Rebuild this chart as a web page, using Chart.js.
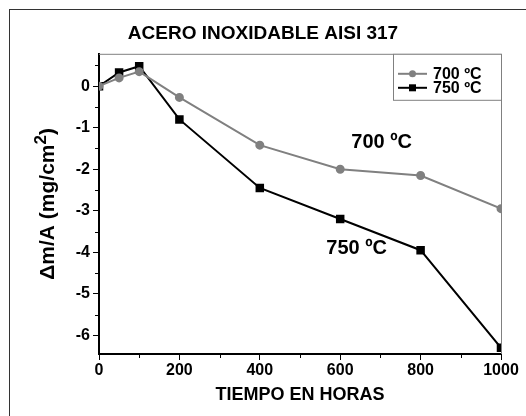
<!DOCTYPE html>
<html>
<head>
<meta charset="utf-8">
<script src="https://cdn.jsdelivr.net/npm/chart.js@4.4.1/dist/chart.umd.min.js"></script>
<style>
  body { margin: 0; background: #fff; }
  #wrap { position: relative; width: 526px; height: 416px; overflow: hidden; }
  #frame { position: absolute; left: 9px; top: 9px; width: 600px; height: 500px; border: 1px solid #333; }
  canvas { position: absolute; left: 0; top: 0; }
</style>
</head>
<body>
<div id="wrap">
  <div id="frame"></div>
  <canvas id="myChart" width="526" height="416"></canvas>
</div>
<script>
// datos
const horas = [0, 50, 100, 200, 400, 600, 800, 1000];
const masa700 = [0, 0.2, 0.35, -0.27, -1.42, -2.0, -2.15, -2.95];
const masa750 = [0, 0.33, 0.48, -0.8, -2.45, -3.2, -3.95, -6.3];
const serieNombres = ["700 ºC", "750 ºC"];
// etiquetas dentro del grafico (en unidades de datos)
const notaTextos = ["700 ºC", "750 ºC"];
const notaX = [703, 641];
const notaY = [-1.36, -3.9];
// titulo del eje y: texto, superindice, cierre
const tituloY = ["Δm/A (mg/cm", "2", ")"];

const GRIS = "#808080";
const FONT = "Liberation Sans, Arial, sans-serif";

const toPoints = (ys) => horas.map((h, i) => ({ x: h, y: ys[i] }));

// marco superior/derecho, ticks menores, leyenda, notas y titulo del eje y
const extras = {
    id: "extras",
    afterDatasetsDraw(chart) {
        const { ctx, chartArea: a, scales } = chart;
        ctx.save();
        // marco gris arriba y a la derecha
        ctx.strokeStyle = GRIS;
        ctx.lineWidth = 1;
        ctx.beginPath();
        ctx.moveTo(a.left, a.top + 0.5);
        ctx.lineTo(a.right + 0.5, a.top + 0.5);
        ctx.lineTo(a.right + 0.5, a.bottom);
        ctx.stroke();

        // ticks menores
        ctx.strokeStyle = "#000";
        ctx.beginPath();
        for (let v = 100; v < 1000; v += 200) {
            const px = Math.round(scales.x.getPixelForValue(v)) + 0.5;
            ctx.moveTo(px, a.bottom);
            ctx.lineTo(px, a.bottom + 4);
        }
        for (let v = -5.5; v <= 0.5; v += 1) {
            const py = Math.round(scales.y.getPixelForValue(v)) + 0.5;
            ctx.moveTo(a.left, py);
            ctx.lineTo(a.left - 4, py);
        }
        ctx.stroke();

        // leyenda con recuadro
        const lx = 393, ly = a.top, lw = a.right - 393, lh = 46;
        ctx.fillStyle = "#fff";
        ctx.fillRect(lx, ly, lw, lh);
        ctx.strokeStyle = GRIS;
        ctx.strokeRect(lx + 0.5, ly + 0.5, lw, lh);
        chart.data.datasets.forEach((ds, i) => {
            const y = ly + 20 + i * 14;
            ctx.strokeStyle = ds.borderColor;
            ctx.lineWidth = 2;
            ctx.beginPath();
            ctx.moveTo(398, y);
            ctx.lineTo(427, y);
            ctx.stroke();
            ctx.fillStyle = ds.borderColor;
            if (ds.pointStyle === "rect") {
                ctx.fillRect(409, y - 3.5, 7, 7);
            } else {
                ctx.beginPath();
                ctx.arc(412.5, y, 3.5, 0, Math.PI * 2);
                ctx.fill();
            }
            ctx.fillStyle = "#000";
            ctx.font = "bold 16px " + FONT;
            ctx.textAlign = "left";
            ctx.textBaseline = "middle";
            ctx.fillText(ds.label, 433, y + 1);
        });

        // notas
        ctx.font = "bold 20px " + FONT;
        ctx.textAlign = "center";
        ctx.textBaseline = "middle";
        ctx.fillStyle = "#000";
        notaTextos.forEach((t, i) => {
            ctx.fillText(t, scales.x.getPixelForValue(notaX[i]), scales.y.getPixelForValue(notaY[i]));
        });

        // titulo del eje y con superindice
        const fBig = "bold 21px " + FONT, fSup = "bold 17px " + FONT;
        ctx.font = fBig;
        const w1 = ctx.measureText(tituloY[0]).width;
        const w3 = ctx.measureText(tituloY[2]).width;
        ctx.font = fSup;
        const w2 = ctx.measureText(tituloY[1]).width;
        ctx.translate(47, (a.top + a.bottom) / 2);
        ctx.rotate(-Math.PI / 2);
        ctx.textAlign = "left";
        ctx.textBaseline = "alphabetic";
        let x0 = -(w1 + w2 + w3) / 2;
        ctx.font = fBig;
        ctx.fillText(tituloY[0], x0, 7);
        ctx.font = fSup;
        ctx.fillText(tituloY[1], x0 + w1, -1);
        ctx.font = fBig;
        ctx.fillText(tituloY[2], x0 + w1 + w2, 7);
        ctx.restore();
    },
};

const ctx = document.getElementById("myChart").getContext("2d");
new Chart(ctx, {
    type: "line",
    data: {
        datasets: [
            {
                label: serieNombres[0],
                data: toPoints(masa700),
                borderColor: GRIS,
                backgroundColor: GRIS,
                borderWidth: 2,
                pointStyle: "circle",
                pointRadius: 3.5,
                tension: 0,
            },
            {
                label: serieNombres[1],
                data: toPoints(masa750),
                borderColor: "#000",
                backgroundColor: "#000",
                borderWidth: 2,
                pointStyle: "rect",
                pointRadius: 4.6,
                tension: 0,
            },
        ],
    },
    options: {
        responsive: false,
        animation: false,
        layout: { padding: { left: 25, right: 25, top: 0, bottom: 0 } },
        plugins: {
            legend: { display: false },
            tooltip: { enabled: false },
            title: {
                display: true,
                text: "ACERO INOXIDABLE AISI 317",
                color: "#000",
                font: { family: FONT, size: 19, weight: "bold" },
                padding: { top: 22, bottom: 9 },
            },
        },
        scales: {
            x: {
                type: "linear",
                min: 0,
                max: 1000,
                afterFit: (s) => { s.height = 62; },
                ticks: {
                    stepSize: 200,
                    color: "#000",
                    font: { family: FONT, size: 16, weight: "bold" },
                    padding: 1,
                    maxRotation: 0,
                    callback: (v) => String(v),
                },
                grid: { drawOnChartArea: false, tickLength: 6, tickColor: "#000", tickWidth: 1 },
                border: { color: "#000", width: 2 },
                title: {
                    display: true,
                    text: "TIEMPO EN HORAS",
                    color: "#000",
                    font: { family: FONT, size: 18, weight: "bold" },
                    padding: { top: 0, bottom: 10 },
                },
            },
            y: {
                min: -6.45,
                max: 0.78,
                afterFit: (s) => { s.width = 74; },
                afterBuildTicks: (s) => { s.ticks = s.ticks.filter((t) => Number.isInteger(t.value)); },
                ticks: { stepSize: 1, color: "#000", font: { family: FONT, size: 16, weight: "bold" }, padding: 3 },
                grid: { drawOnChartArea: false, tickLength: 6, tickColor: "#000", tickWidth: 1 },
                border: { color: "#000", width: 2 },
            },
        },
    },
    plugins: [extras],
});
</script>
</body>
</html>
